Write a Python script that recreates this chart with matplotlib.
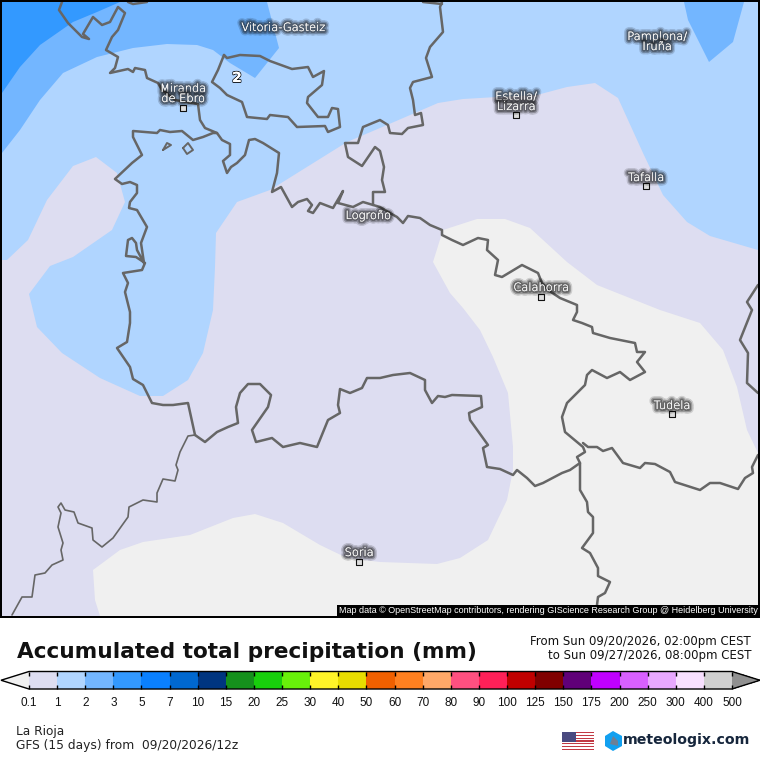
import matplotlib
matplotlib.use("Agg")
import matplotlib.pyplot as plt
import matplotlib.patheffects as pe
from matplotlib import font_manager as fm
from matplotlib.colors import ListedColormap, BoundaryNorm
from matplotlib.cm import ScalarMappable
from matplotlib.patches import Rectangle, Polygon

levels = [0.1, 1, 2, 3, 5, 7, 10, 15, 20, 25, 30, 40, 50, 60, 70, 80, 90, 100, 125, 150, 175, 200, 250, 300, 400, 500]
level_labels = [str(v) for v in levels]
level_colors = ["#DDDDF1", "#B0D5FF", "#73B6FF", "#3399FF", "#0A80FF", "#0068D0", "#003580", "#15901C", "#18CF0C",
                "#68F00A", "#FFF428", "#E8DC00", "#F06000", "#FF8020", "#FFA868", "#FF5080", "#FF2058", "#C00000",
                "#800000", "#600078", "#C000FF", "#D860FF", "#E8A8FF", "#F8E0FF", "#D0D0D0"]
under_color = "#F0F0F0"
over_color = "#909090"

band_dry = [(433,262),(443,230),(477,219),(505,219),(530,228),(567,262),(597,285),(660,310),(700,323),(723,350),(737,387),
            (747,430),(758,453),(758,616),(100,616),(95,600),(93,570),(120,550),(143,542),(190,535),(233,518),(255,514),
            (283,523),(320,545),(347,558),(380,562),(437,564),(460,558),(488,540),(507,500),(513,470),(513,447),(508,393),
            (493,357),(480,330),(463,308),(450,293)]
band_1_2 = [(2,2),(758,2),(758,250),(710,236),(687,222),(663,195),(643,153),(618,98),(595,83),(567,87),(537,95),(497,97),
            (463,99),(438,103),(380,128),(347,142),(270,190),(237,202),(216,233),(215,267),(213,310),(203,353),(188,380),
            (163,396),(140,396),(100,378),(62,353),(37,327),(29,294),(50,266),(73,257),(112,230),(125,202),(117,173),
            (96,157),(73,166),(47,200),(28,240),(7,260),(2,260)]
band_2_3_west = [(2,2),(267,2),(279,48),(255,78),(230,63),(213,50),(197,45),(167,44),(133,48),(97,57),(63,73),(40,100),(20,130),(2,153)]
band_2_3_east = [(684,2),(688,20),(709,62),(733,42),(744,2)]
band_3_5 = [(2,2),(120,2),(97,12),(73,22),(40,45),(20,67),(2,93)]

border_main = [(62,2),(59,10),(68,23),(82,37),(89,39),(83,34),(93,17),(102,25),(110,22),(118,7),(125,13),(118,30),(112,37),
               (106,50),(118,57),(115,68),(110,73),(128,69),(133,72),(135,68),(145,70),(147,78),(158,83),(162,90),(175,100),
               (198,104),(200,120),(205,128),(217,133),(222,140),(230,144),(230,155),(223,161),(227,173),(231,167),(237,163),
               (245,155),(249,140),(255,139),(263,143),(279,153),(277,173),(272,192),(281,187),(292,207),(298,202),(307,199),
               (312,205),(308,211),(313,213),(320,203),(333,208),(343,191),(338,203),(353,207),(363,202),(373,205),(380,207),
               (390,213),(397,217),(403,223),(408,216),(420,218),(430,225),(442,230),(442,235),(452,240),(463,245),(478,238),
               (488,240),(487,250),(498,260),(495,275),(502,277),(522,265),(538,273),(542,283),(548,290),(560,298),(577,305),
               (577,312),(573,320),(582,323),(592,327),(593,333),(610,338),(635,343),(637,352),(645,352),(637,362),(645,372),
               (630,380),(620,372),(607,378),(592,370),(587,375),(585,385),(567,403),(562,417),(565,432),(583,447),(585,452),
               (577,457),(580,463),(570,470),(562,473),(543,483),(535,486),(527,478),(517,470),(513,475),(500,469),(487,467),
               (483,448),(488,445),(470,420),(469,413),(482,407),(481,396),(452,395),(445,397),(438,396),(432,403),(425,390),
               (425,380),(410,373),(393,375),(380,378),(367,378),(362,388),(350,393),(340,389),(338,405),(340,413),(328,420),
               (317,447),(300,443),(283,447),(272,438),(256,442),(252,430),(268,407),(271,395),(260,384),(248,384),(240,393),
               (236,407),(238,423),(228,427),(217,432),(205,442),(195,435)]
border_west = [(195,435),(188,403),(173,405),(163,405),(152,403),(143,385),(133,379),(130,367),(117,348),(127,342),(130,323),
               (130,312),(125,292),(128,283),(123,273),(142,270),(145,263),(136,257),(126,256),(128,240),(132,238),(136,243),
               (137,250),(144,263),(141,243),(147,227),
               (137,210),(129,208),(130,202),(137,193),(137,185),(130,182),(122,184),(115,179),(132,163),(142,155),(133,137),
               (133,131),(157,133),(160,130),(170,132),(182,131),(193,140),(203,137),(213,133),(217,133)]
border_southwest = [(195,435),(188,436),(180,452),(176,465),(178,470),(175,481),(163,479),(157,493),(157,502),(143,500),(129,507),
                    (128,517),(113,538),(102,547),(93,540),(92,528),(78,523),(74,512),(65,510),(61,503),(58,507),(61,513),
                    (58,527),(63,543),(61,550),(63,560),(52,565),(45,573),(35,575),(32,597),(22,597),(12,615)]
border_enclave = [(224,55),(227,58),(240,55),(260,56),(270,61),(292,69),(308,67),(313,77),(324,71),(322,85),(308,97),(307,103),
                  (318,117),(328,117),(332,108),(338,109),(340,127),(328,132),(325,126),(297,127),(288,117),(270,115),(267,119),
                  (247,117),(242,102),(227,95),(220,88),(212,82),(218,70),(224,55)]
border_navarra_north = [(373,205),(373,192),(385,192),(382,180),(384,167),(380,151),(375,147),(362,166),(348,157),(345,143),
                        (358,143),(363,127),(380,120),(388,125),(390,133),(402,134),(408,128),(423,125),(421,113),(415,115),
                        (413,100),(410,88),(413,82),(432,77),(426,58),(430,47),(443,32),(440,7),(442,2)]
border_top_a = [(128,2),(133,4),(147,2)]
border_top_b = [(423,2),(442,4)]
border_east = [(758,285),(747,302),(752,310),(750,315),(740,340),(748,353),(747,383),(758,393)]
border_south_east = [(583,443),(588,447),(597,447),(603,451),(612,448),(623,463),(640,468),(645,463),(655,464),(670,472),(675,482),
                     (700,490),(710,483),(720,483),(738,489),(745,478),(753,473),(752,467),(758,455)]
border_south = [(580,463),(580,490),(587,502),(588,512),(593,517),(593,533),(582,548),(590,553),(598,568),(598,576),(610,582),
                (605,593),(598,597),(597,605),(600,615)]
island_a = [(163,150),(167,143),(171,145),(163,150)]
island_b = [(183,148),(188,143),(193,150),(187,154),(183,148)]

city_names = ["Miranda\nde Ebro", "Estella/\nLizarra", "Tafalla", "Calahorra", "Tudela", "Soria"]
city_x = [183, 516, 646, 541, 672, 359]
city_y = [108, 115, 186, 297, 414, 562]
city_label_y = [94, 102, 178, 288, 406, 553]
place_names = ["Vitoria-Gasteiz", "Pamplona/\nIruña", "Logroño"]
place_x = [283, 657, 368]
place_y = [28, 42, 216]

title = "Accumulated total precipitation (mm)"
period = ["From Sun 09/20/2026, 02:00pm CEST", "to Sun 09/27/2026, 08:00pm CEST"]
region = "La Rioja"
model = "GFS (15 days) from  09/20/2026/12z"
credit = "Map data © OpenStreetMap contributors, rendering GIScience Research Group @ Heidelberg University"
brand = "meteologix.com"

# ---------- figure ----------
fig = plt.figure(figsize=(7.6, 7.6), dpi=100, facecolor="white")
ax = fig.add_axes([0, 0, 1, 1])
ax.set_xlim(0, 760)
ax.set_ylim(760, 0)
ax.axis("off")

# map
ax.add_patch(Rectangle((0, 0), 760, 618, fc="black", ec="none", zorder=0))
ax.add_patch(Rectangle((2, 2), 756, 613.5, fc=level_colors[0], ec="none", zorder=0.5))
clip = Rectangle((2, 2), 756, 613.5, transform=ax.transData)
for poly, col in [(band_dry, under_color), (band_1_2, level_colors[1]), (band_2_3_west, level_colors[2]),
                  (band_2_3_east, level_colors[2]), (band_3_5, level_colors[3])]:
    p = Polygon(poly, closed=True, fc=col, ec="none", zorder=1)
    ax.add_patch(p)
    p.set_clip_path(clip)

BORDER = "#666666"
for line, lw in [(border_main, 1.8), (border_west, 1.8), (border_southwest, 1.2), (border_enclave, 1.8),
                 (border_navarra_north, 1.8), (border_top_a, 1.8), (border_top_b, 1.8), (border_east, 1.8),
                 (border_south_east, 1.8), (border_south, 1.8), (island_a, 1.4), (island_b, 1.4)]:
    l, = ax.plot([q[0] for q in line], [q[1] for q in line], color=BORDER, lw=lw, zorder=2,
                 solid_joinstyle="round", solid_capstyle="round")
    l.set_clip_path(clip)

glow = [pe.withStroke(linewidth=6.5, foreground="#000000", alpha=0.14),
        pe.withStroke(linewidth=4.5, foreground="#000000", alpha=0.25),
        pe.withStroke(linewidth=2.5, foreground="#222222", alpha=0.4), pe.Normal()]
def label(x, y, s):
    ax.text(x, y, s, color="white", fontsize=8.2, ha="center", va="center", linespacing=1.0,
            family="DejaVu Sans", fontweight="light", zorder=4, path_effects=glow)

ax.scatter(city_x, city_y, s=14, marker="s", fc="#DDDDDD", ec="#111111", lw=0.8, zorder=4)
for n, x, y in zip(city_names, city_x, city_label_y):
    label(x, y, n)
for n, x, y in zip(place_names, place_x, place_y):
    label(x, y, n)
ax.text(237, 78, "2", color="white", fontsize=10, fontweight="bold", ha="center", va="center", zorder=4,
        path_effects=[pe.withStroke(linewidth=1.2, foreground="black"), pe.Normal()])

ax.add_patch(Rectangle((337, 605), 421, 11, fc="black", ec="none", zorder=5))
ax.text(339, 610.5, credit, color="white", fontsize=6.5, family="Liberation Sans", ha="left", va="center", zorder=6)

# header and footer text
ax.text(17, 652, title, fontsize=15.6, fontweight="bold", family="DejaVu Sans", color="#111111", ha="left", va="center")
ax.text(751, 642, period[0], fontsize=8.5, family="DejaVu Sans", color="#111111", ha="right", va="center")
ax.text(751, 656, period[1], fontsize=8.5, family="DejaVu Sans", color="#111111", ha="right", va="center")
ax.text(16, 731, region, fontsize=8.7, family="DejaVu Sans", color="#222222", ha="left", va="center")
ax.text(16, 746, model, fontsize=8.8, family="DejaVu Sans", color="#222222", ha="left", va="center")

# flag
for i in range(13):
    ax.add_patch(Rectangle((562, 732 + i * 18 / 13), 32, 18 / 13, fc="#C23A45" if i % 2 == 0 else "white", ec="none"))
ax.add_patch(Rectangle((562, 732), 14, 9.5, fc="#4A4A80", ec="none"))

# logo
ax.add_patch(Polygon([(613, 731), (622, 736), (622, 746), (613, 751), (605, 746), (605, 736)], fc="#12A0F0", ec="none"))
ax.add_patch(Polygon([(613, 736), (618, 741), (618, 746), (610, 744)], fc="#6D7F95", ec="none"))
ax.text(623, 740, brand, fontsize=10.2, fontweight="bold", family="DejaVu Sans", color="#16263C", ha="left", va="center")

# colour bar
cmap = ListedColormap(level_colors)
cmap.set_under(under_color)
cmap.set_over(over_color)
norm = BoundaryNorm(levels, cmap.N)
cax = fig.add_axes([1 / 760, (760 - 689) / 760, 759 / 760, 17.5 / 760])
cb = fig.colorbar(ScalarMappable(norm=norm, cmap=cmap), cax=cax, orientation="horizontal", extend="both",
                  extendfrac=28 / 702.7, spacing="uniform", ticks=levels)
try:
    fm.findfont("Liberation Sans Narrow", fallback_to_default=False)
    tick_family, tick_size = "Liberation Sans Narrow", 10
except ValueError:
    tick_family, tick_size = "Liberation Sans", 8.5
cb.ax.set_xticklabels(level_labels, family=tick_family, fontsize=tick_size, color="#111111")
cb.ax.tick_params(axis="x", direction="in", length=3, width=1, color="black", pad=6, top=True, bottom=True)
cb.ax.minorticks_off()
cb.outline.set_linewidth(1)
cb.outline.set_edgecolor("black")

fig.savefig("out.png", dpi=100, facecolor="white")
